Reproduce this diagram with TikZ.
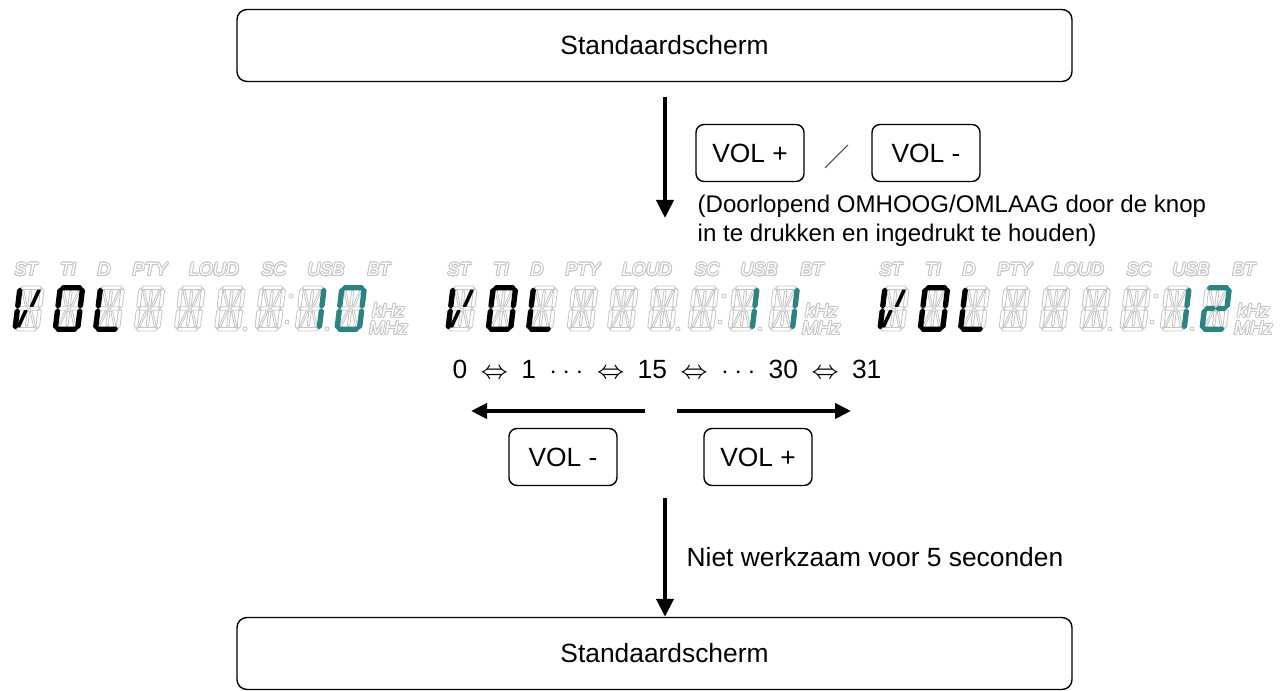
\documentclass[tikz,border=0pt]{standalone}
\usepackage{fontspec}
\setmainfont{Liberation Sans}
\usepackage{contour}
\contourlength{0.25pt}
\usetikzlibrary{arrows.meta}

\definecolor{lcdteal}{HTML}{2B8480}
\colorlet{lcdoff}{gray!45}

\tikzset{
  screenbox/.style={draw, rounded corners=0.1cm, line width=0.4pt, minimum width=8.35cm, minimum height=0.72cm},
  keybox/.style={draw, rounded corners=0.08cm, line width=0.4pt, minimum width=1.08cm, minimum height=0.57cm},
  flow/.style={-{Triangle[length=0.18cm,width=0.17cm]}, line width=1.15pt},
  sideflow/.style={-{Triangle[length=0.16cm,width=0.15cm]}, line width=1.2pt},
  lcdtag/.style={inner sep=0pt, font=\fontsize{5.1}{6}\selectfont\itshape},
  lcdunit/.style={inner sep=0pt, align=center, font=\fontsize{5.4}{3.9}\selectfont\itshape},
  segoff/.style={draw=lcdoff, line width=0.25pt},
  segon/.style={fill=#1, draw=#1, line width=0.5pt, line join=round},
  % segments of one 14-segment cell, in px, 26 wide and 45 high
  seg a/.style={insert path={(2.6,43.2)--(4.4,45)--(21.6,45)--(23.4,43.2)--(21.6,41.4)--(4.4,41.4)--cycle}},
  seg d/.style={insert path={(2.6,1.8)--(4.4,3.6)--(21.6,3.6)--(23.4,1.8)--(21.6,0)--(4.4,0)--cycle}},
  seg g1/.style={insert path={(2.6,22.5)--(4.4,24.3)--(10.6,24.3)--(12.4,22.5)--(10.6,20.7)--(4.4,20.7)--cycle}},
  seg g2/.style={insert path={(13.6,22.5)--(15.4,24.3)--(21.6,24.3)--(23.4,22.5)--(21.6,20.7)--(15.4,20.7)--cycle}},
  seg f/.style={insert path={(1.8,23.3)--(3.6,25.1)--(3.6,40.6)--(1.8,42.4)--(0,40.6)--(0,25.1)--cycle}},
  seg e/.style={insert path={(1.8,2.6)--(3.6,4.4)--(3.6,19.9)--(1.8,21.7)--(0,19.9)--(0,4.4)--cycle}},
  seg b/.style={insert path={(24.2,23.3)--(26,25.1)--(26,40.6)--(24.2,42.4)--(22.4,40.6)--(22.4,25.1)--cycle}},
  seg c/.style={insert path={(24.2,2.6)--(26,4.4)--(26,19.9)--(24.2,21.7)--(22.4,19.9)--(22.4,4.4)--cycle}},
  seg i/.style={insert path={(13,24.6)--(14.2,25.8)--(14.2,39.2)--(13,40.4)--(11.8,39.2)--(11.8,25.8)--cycle}},
  seg l/.style={insert path={(13,4.6)--(14.2,5.8)--(14.2,19.2)--(13,20.4)--(11.8,19.2)--(11.8,5.8)--cycle}},
  seg h/.style={insert path={(4,40.6)--(6,40.6)--(11.2,25)--(9.2,25)--cycle}},
  seg j/.style={insert path={(22,40.6)--(20,40.6)--(14.8,25)--(16.8,25)--cycle}},
  seg k/.style={insert path={(9.2,20)--(11.2,20)--(6,4.4)--(4,4.4)--cycle}},
  seg m/.style={insert path={(16.8,20)--(14.8,20)--(20,4.4)--(22,4.4)--cycle}},
  seg none/.style={}
}

% one cell: x of its lower left corner, colour, lit segments
\newcommand{\lcdchar}[3]{%
  \begin{scope}[shift={(#1,-3.31)}, x=0.01cm, y=0.01cm, xslant=0.12]
    \foreach \s in {a,b,c,d,e,f,g1,g2,h,i,j,k,l,m} \draw[segoff, seg \s];
    \foreach \s in {#3} \path[segon=#2, seg \s];
  \end{scope}}

% one display: name, x offset, segments of the two last cells
\newcommand{\lcdpanel}[4]{%
  \begin{scope}[shift={(#2,0)}]
    % indicators
    \foreach \lx/\lt in {0.26/ST, 0.68/TI, 1.04/D, 1.50/PTY, 2.14/LOUD, 2.74/SC, 3.26/USB, 3.79/BT}
      \node[lcdtag] (#1-\lt) at (\lx,-2.70) {\contour{lcdoff}{\textcolor{white}{\lt}}};
    % cells
    \lcdchar{0.13}{black}{f,e,j,k}
    \lcdchar{0.5325}{black}{a,b,c,d,e,f}
    \lcdchar{0.935}{black}{f,e,d}
    \foreach \n in {3,...,6} {\lcdchar{0.13+0.4025*\n}{black}{none}}
    \lcdchar{2.9475}{lcdteal}{#3}
    \lcdchar{3.35}{lcdteal}{#4}
    % points
    \draw[segoff] (2.45,-3.29) circle (0.02);
    \draw[segoff] (2.91,-2.96) circle (0.02);
    \draw[segoff] (2.87,-3.22) circle (0.02);
    \draw[segoff] (3.27,-3.29) circle (0.02);
    \node[lcdunit] (#1-unit) at (3.885,-3.195) {\contour{lcdoff}{\textcolor{white}{kHz}}\\\contour{lcdoff}{\textcolor{white}{MHz}}};
  \end{scope}}

\begin{document}
\begin{tikzpicture}[font=\fontsize{7.5}{8.4}\selectfont]
  \useasboundingbox (0,0) rectangle (12.81,-6.91);

  % Screens
  \node[screenbox] (top) at (6.545,-0.455) {\hspace*{0.2cm}Standaardscherm};
  \node[screenbox] (bottom) at (6.545,-6.535) {\hspace*{0.2cm}Standaardscherm};

  % Keys
  \node[keybox] (volup) at (7.50,-1.53) {VOL +};
  \node[keybox] (voldown) at (9.26,-1.53) {VOL -};
  \draw[line width=0.3pt, gray!60!black] (8.25,-1.68) -- (8.48,-1.45);
  \node[anchor=west, align=left, inner sep=0pt, font=\fontsize{6.85}{8.25}\selectfont] (holdnote) at (6.97,-2.205) {(Doorlopend OMHOOG/OMLAAG door de knop\\in te drukken en ingedrukt te houden)};

  % Displays
  \lcdpanel{lcdA}{0}{b,c}{a,b,c,d,e,f}
  \lcdpanel{lcdB}{4.33}{b,c}{b,c}
  \lcdpanel{lcdC}{8.65}{b,c}{a,b,g1,g2,e,d}

  % Range
  \node (range) at (6.67,-3.69) {0\hspace{3.7pt}$\Leftrightarrow$\hspace{3.7pt}1\hspace{3.7pt}$\cdots$\hspace{3.7pt}$\Leftrightarrow$\hspace{3.7pt}15\hspace{3.7pt}$\Leftrightarrow$\hspace{3.7pt}$\cdots$\hspace{3.7pt}30\hspace{3.7pt}$\Leftrightarrow$\hspace{3.7pt}31};
  \node[keybox] (voldownb) at (5.63,-4.57) {VOL -};
  \node[keybox] (volupb) at (7.58,-4.57) {VOL +};

  % Arrows
  \coordinate (downA) at (6.65,-0.97);
  \coordinate (downB) at (6.65,-2.18);
  \coordinate (leftA) at (6.45,-4.11);
  \coordinate (leftB) at (4.71,-4.11);
  \coordinate (rightA) at (6.77,-4.11);
  \coordinate (rightB) at (8.51,-4.11);
  \coordinate (downC) at (6.65,-4.98);
  \draw[flow] (downA) -- (downB);
  \draw[sideflow] (leftA) -- (leftB);
  \draw[sideflow] (rightA) -- (rightB);
  \draw[flow] (downC) -- (bottom.north -| downC);
  \node[anchor=west, inner sep=0pt] (idlenote) at (6.86,-5.57) {Niet werkzaam voor 5 seconden};
\end{tikzpicture}
\end{document}
